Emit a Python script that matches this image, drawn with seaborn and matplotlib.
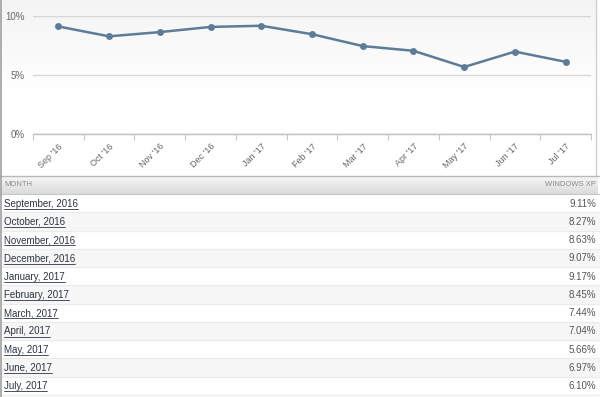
import numpy as np
import pandas as pd
import seaborn as sns
import matplotlib.pyplot as plt
from matplotlib.lines import Line2D

# Windows XP share, Sep 2016 - Jul 2017
short_labels = ["Sep '16", "Oct '16", "Nov '16", "Dec '16", "Jan '17", "Feb '17",
                "Mar '17", "Apr '17", "May '17", "Jun '17", "Jul '17"]
month_names = ["September, 2016", "October, 2016", "November, 2016", "December, 2016",
               "January, 2017", "February, 2017", "March, 2017", "April, 2017",
               "May, 2017", "June, 2017", "July, 2017"]
share = [9.11, 8.27, 8.63, 9.07, 9.17, 8.45, 7.44, 7.04, 5.66, 6.97, 6.10]
y_ticks = [0, 5, 10]
y_tick_labels = ["0%", "5%", "10%"]

df = pd.DataFrame({"label": short_labels, "month": month_names, "share": share})
df["pos"] = np.arange(len(df))

sns.set_theme(style="white")
plt.rcParams["font.family"] = ["Liberation Sans", "DejaVu Sans"]

W, H = 600, 397
fig = plt.figure(figsize=(W / 100, H / 100), dpi=100)

# background canvas in pixel coordinates
bg = fig.add_axes([0, 0, 1, 1])
bg.set_xlim(0, W)
bg.set_ylim(H, 0)
bg.axis("off")

# faint gradient behind the chart
grad = np.linspace(0.955, 1.0, 100).reshape(-1, 1)
bg.imshow(np.dstack([grad] * 3), extent=(1, 596, 90, 0), aspect="auto", zorder=0)
bg.add_patch(plt.Rectangle((1, 90), 595, 85, color="white", zorder=0))
bg.plot([596, 596], [0, 175], color="#d0d0d0", lw=1)
bg.plot([0, 600], [175.5, 175.5], color="#b8b8b8", lw=1)

# table header
hgrad = np.linspace(0.965, 0.86, 50).reshape(-1, 1)
bg.imshow(np.dstack([hgrad] * 3), extent=(1, 598, 194, 176), aspect="auto", zorder=0)
bg.plot([0, 600], [194, 194], color="#c8c8c8", lw=0.8)
bg.text(4, 185, "MONTH", fontsize=5.5, color="#8a8a8a", va="center", ha="left")
bg.text(596, 185, "WINDOWS XP", fontsize=5.5, color="#8a8a8a", va="center", ha="right")

# table rows
row_h = 18.25
top = 194
name_texts = []
for i, row in df.iterrows():
    y0 = top + i * row_h
    if i % 2 == 1:
        bg.add_patch(plt.Rectangle((1, y0), 598, row_h, color="#f6f6f6", zorder=0))
    bg.plot([1, 599], [y0 + row_h, y0 + row_h], color="#ebebeb", lw=0.8)
    t = bg.text(4, y0 + row_h / 2 + 0.5, row["month"], fontsize=7, color="#2b3440",
                va="center", ha="left")
    name_texts.append(t)
    bg.text(596, y0 + row_h / 2 + 0.5, f"{row['share']:.2f}%", fontsize=7,
            color="#555555", va="center", ha="right")

# left border
bg.plot([0.5, 0.5], [0, H], color="#a0a0a0", lw=1.2)

# line chart
ax = fig.add_axes([33 / W, 1 - 133.5 / H, (591 - 33) / W, (133.5 - 16) / H])
ax.patch.set_alpha(0)
sns.lineplot(data=df, x="pos", y="share", ax=ax, color="#5e7c97", lw=1.8,
             marker="o", markersize=5, markeredgewidth=0, zorder=3)
ax.set_xlim(-0.5, len(df) - 0.5)
ax.set_ylim(0, 10)
ax.set_xlabel("")
ax.set_ylabel("")
ax.set_yticks(y_ticks)
ax.set_yticklabels(y_tick_labels, fontsize=7, color="#666666")
ax.set_xticks(df["pos"])
ax.set_xticklabels(df["label"], rotation=45, ha="right", rotation_mode="anchor",
                   fontsize=6.5, color="#666666")
ax.set_xticks(np.arange(-0.5, len(df)), minor=True)
ax.tick_params(axis="x", which="major", length=0, pad=6)
ax.tick_params(axis="x", which="minor", length=4, color="#c8c8c8", width=0.8,
               bottom=True)
ax.tick_params(axis="y", length=0, pad=6)
for s in ax.spines.values():
    s.set_visible(False)
ax.spines["bottom"].set_visible(True)
ax.spines["bottom"].set_color("#c0c0c0")
ax.spines["bottom"].set_linewidth(1)
ax.yaxis.grid(True, color="#d6d6d6", lw=1)
ax.set_axisbelow(True)

# underline the month links
fig.canvas.draw()
inv = bg.transData.inverted()
for t in name_texts:
    bb = t.get_window_extent()
    (x0, yb), (x1, _) = inv.transform([[bb.x0, bb.y0], [bb.x1, bb.y1]])
    bg.add_line(Line2D([x0, x1], [yb + 0.3, yb + 0.3], color="#2b3440", lw=0.6))

fig.savefig("out.png", dpi=100)
